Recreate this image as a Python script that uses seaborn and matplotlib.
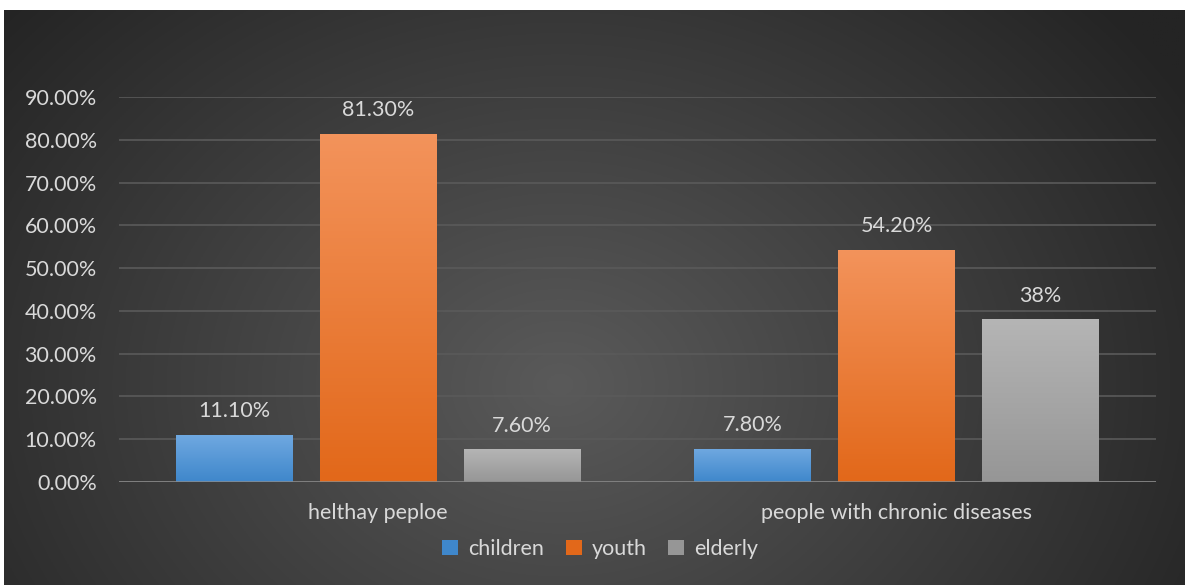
import numpy as np
import pandas as pd
import matplotlib
matplotlib.use("Agg")
import matplotlib.pyplot as plt
import matplotlib.colors as mcolors
import seaborn as sns
from matplotlib.patches import Patch

# ---- data ----
categories = ["helthay peploe", "people with chronic diseases"]
groups = ["children", "youth", "elderly"]
children = [0.111, 0.078]
youth = [0.813, 0.542]
elderly = [0.076, 0.38]
value_labels = {
    "children": ["11.10%", "7.80%"],
    "youth": ["81.30%", "54.20%"],
    "elderly": ["7.60%", "38%"],
}
y_ticks = [0.0, 0.1, 0.2, 0.3, 0.4, 0.5, 0.6, 0.7, 0.8, 0.9]

df = pd.DataFrame({
    "category": categories * 3,
    "group": [g for g in groups for _ in categories],
    "value": children + youth + elderly,
})

# colours: (top, bottom) of gradient
grad = {
    "children": ("#70a9e1", "#3f87cb"),
    "youth": ("#f3935b", "#e2681a"),
    "elderly": ("#b5b5b5", "#969696"),
}
palette = {g: grad[g][1] for g in groups}
text_col = "#d9d9d9"
font = ["Lato", "DejaVu Sans"]
fs = 15.5

W, H = 1185, 585
fig = plt.figure(figsize=(W / 100, H / 100), dpi=100)
fig.patch.set_facecolor("white")

# background panel with radial gradient
bg = fig.add_axes([4 / W, 0, (W - 4) / W, (H - 10) / H], zorder=-10)
ny, nx = 300, 600
yy, xx = np.mgrid[0:ny, 0:nx]
cx, cy = nx * 0.47, ny * 0.65
r = np.sqrt(((xx - cx) / (nx * 0.62)) ** 2 + ((yy - cy) / (ny * 1.0)) ** 2)
r = np.clip(r, 0, 1)
c_in, c_out = np.array([0x5a, 0x5a, 0x5a]) / 255, np.array([0x24, 0x24, 0x24]) / 255
img = c_in[None, None, :] * (1 - r[..., None]) + c_out[None, None, :] * r[..., None]
bg.imshow(img, aspect="auto", extent=[0, 1, 0, 1], origin="upper")
bg.set_axis_off()

# main axes
x0, x1 = 119, 1156
y_top, y_bot = 97, 482
ax = fig.add_axes([x0 / W, 1 - y_bot / H, (x1 - x0) / W, (y_bot - y_top) / H])
ax.patch.set_alpha(0)

sns.barplot(data=df, x="category", y="value", hue="group", order=categories,
            hue_order=groups, palette=palette, width=0.833, gap=0.188,
            saturation=1, ax=ax, legend=False, err_kws={"linewidth": 0})

ax.set_xlim(-0.5, 1.5)
ax.set_ylim(0, 0.9)
ax.set_yticks(y_ticks)
ax.set_yticklabels([f"{v * 100:.2f}%" for v in y_ticks])
ax.yaxis.grid(True, color="#5a5a5a", linewidth=1.2)
ax.set_axisbelow(True)
for s in ax.spines.values():
    s.set_visible(False)
ax.axhline(0, color="#8c8c8c", linewidth=1.8, zorder=5)
ax.tick_params(axis="both", length=0, colors=text_col, labelsize=fs)
ax.tick_params(axis="y", pad=16)
ax.tick_params(axis="x", pad=15)
for lab in ax.get_xticklabels() + ax.get_yticklabels():
    lab.set_family(font)
    lab.set_color(text_col)
ax.set_xlabel("")
ax.set_ylabel("")

# gradient fills + labels
for gi, cont in enumerate(ax.containers):
    g = groups[gi]
    top, bot = mcolors.to_rgb(grad[g][0]), mcolors.to_rgb(grad[g][1])
    t = np.linspace(0, 1, 100)[:, None]
    gimg = np.array(top)[None, None, :] * (1 - t[..., None]) + np.array(bot)[None, None, :] * t[..., None]
    gimg = np.repeat(gimg, 2, axis=1)
    for bar in cont:
        bx, by = bar.get_x(), bar.get_y()
        bw, bh = bar.get_width(), bar.get_height()
        im = ax.imshow(gimg, extent=[bx, bx + bw, by, by + bh], aspect="auto",
                       origin="upper", zorder=bar.get_zorder() + 0.1)
        im.set_clip_path(bar)
    ax.bar_label(cont, labels=value_labels[g], padding=10, color=text_col,
                 fontsize=fs, family=font)
ax.set_xlim(-0.5, 1.5)
ax.set_ylim(0, 0.9)

# legend
handles = [Patch(facecolor=grad[g][1], edgecolor="none") for g in groups]
leg = fig.legend(handles, groups, loc="center", bbox_to_anchor=(600 / W, 1 - 549 / H),
                 ncol=3, frameon=False, handlelength=0.75, handleheight=0.75,
                 handletextpad=0.45, columnspacing=1.0,
                 prop={"family": font, "size": fs})
for t_ in leg.get_texts():
    t_.set_color(text_col)

fig.savefig("out.png", dpi=100, facecolor=fig.get_facecolor())
